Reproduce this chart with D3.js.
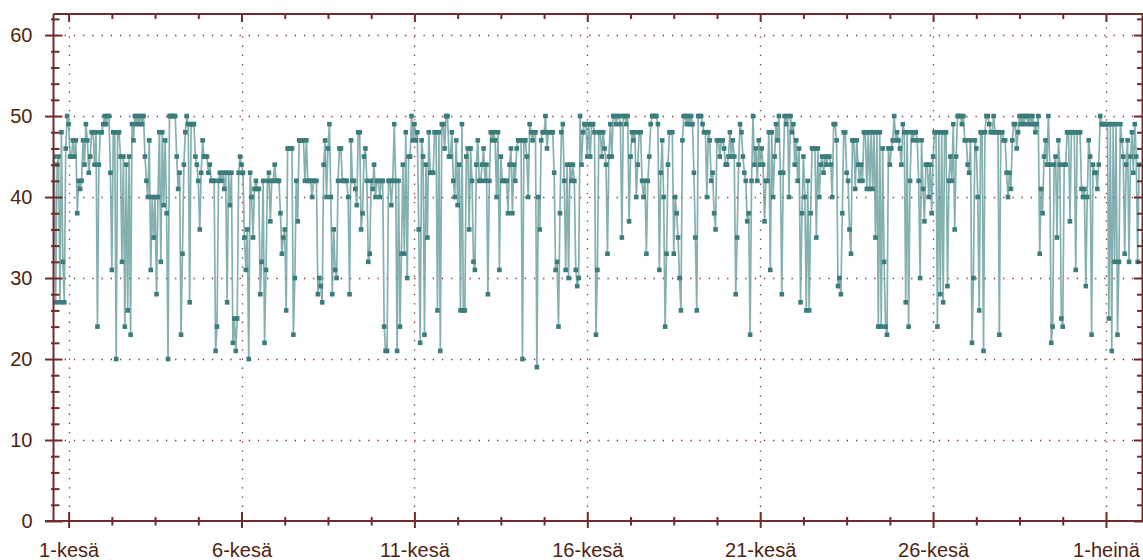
<!DOCTYPE html>
<html>
<head>
<meta charset="utf-8">
<script src="https://cdn.jsdelivr.net/npm/d3@7"></script>
<style>
  html, body { margin: 0; padding: 0; background: #ffffff; }
  svg { display: block; }
  text { font-family: "Liberation Sans", Arial, sans-serif; }
</style>
</head>
<body>
<svg id="chart" width="1143" height="560"></svg>
<script>
// Hourly readings, first value at 31 May 14:00
const seriesStart = "2015-05-31T14:00:00";
const readings = [
45,27,44,45,27,48,32,27,46,50,49,45,
45,47,45,47,38,42,41,42,47,44,49,47,
43,45,48,48,44,48,24,44,48,48,49,50,
49,50,50,43,31,48,48,20,48,48,45,32,
45,24,44,26,45,23,49,47,50,49,50,49,
50,49,50,45,42,40,47,31,40,35,40,28,
40,48,32,48,39,47,38,20,50,50,50,50,
50,45,41,43,23,33,44,48,50,49,27,49,
49,49,45,44,42,36,43,47,45,45,45,43,
44,42,42,42,21,24,42,43,42,43,41,43,
27,43,39,43,22,25,21,25,43,45,44,43,
35,31,36,20,43,40,35,41,42,41,41,28,
32,42,22,31,42,43,37,42,42,44,42,42,
42,38,33,35,36,26,46,46,46,46,23,30,
42,37,47,47,47,47,42,47,42,42,42,40,
42,42,42,28,30,29,27,44,47,40,46,49,
40,28,36,31,30,42,46,46,42,42,42,42,
40,28,47,42,42,41,39,48,48,36,38,45,
46,42,32,33,42,41,44,40,42,42,40,42,
42,24,21,21,42,42,39,42,49,42,21,42,
24,33,44,33,48,30,45,45,50,47,49,47,
48,36,22,47,45,23,44,35,48,43,43,43,
48,48,26,48,21,49,49,46,50,50,45,45,
48,42,40,47,39,44,26,49,26,26,45,46,
36,46,42,32,31,44,47,42,42,44,46,42,
44,28,42,48,47,48,47,40,48,31,45,42,
42,42,42,38,44,46,38,44,42,46,47,47,
47,20,47,47,45,40,49,48,47,48,48,19,
40,36,47,48,48,50,46,48,48,48,48,43,
31,32,24,38,48,49,42,31,44,30,44,42,
44,42,31,29,30,50,44,48,49,49,45,49,
45,49,49,48,23,31,48,48,45,48,46,44,
33,45,49,45,50,50,49,50,50,49,35,50,
50,49,50,37,45,48,47,48,40,44,48,48,
42,40,42,33,42,45,49,50,50,50,50,49,
31,43,47,40,24,33,44,48,48,48,33,40,
38,35,30,26,47,50,50,49,50,49,50,49,
43,35,26,50,50,50,49,48,48,40,48,47,
42,43,38,36,47,47,45,47,47,46,44,44,
45,48,45,47,45,28,35,44,49,48,45,43,
42,37,38,23,42,50,44,46,42,47,44,46,
44,37,42,42,48,31,48,40,45,49,47,50,
43,28,43,50,49,50,40,50,48,49,44,47,
42,46,27,38,45,40,26,42,26,38,46,46,
46,35,46,40,44,45,43,45,44,45,45,44,
40,49,49,47,29,30,28,38,48,48,43,42,
36,33,47,47,41,47,44,42,44,42,48,48,
41,48,41,48,41,48,35,48,24,48,24,46,
32,24,23,46,44,46,47,50,47,48,47,46,
44,49,48,27,48,24,42,48,47,48,48,47,
42,30,47,41,37,44,44,40,44,38,45,48,
48,24,48,28,48,27,48,48,29,42,45,42,
49,36,45,50,50,50,49,50,47,47,44,43,
47,22,30,47,46,40,26,48,48,21,48,50,
50,49,48,48,50,48,48,48,23,48,48,47,
47,43,40,43,41,47,49,49,46,48,50,49,
50,49,50,50,49,50,49,50,49,48,49,50,
33,41,38,45,47,44,50,44,22,24,44,45,
35,47,44,25,24,44,44,48,48,37,48,48,
48,31,48,48,48,41,40,41,29,40,47,45,
23,44,43,43,41,44,50,49,49,49,49,49,
25,49,21,49,32,49,23,32,49,47,45,33,
44,47,32,45,48,43,49,45,32,44
];

// Axis ticks and labels
const xTickDates = ["2015-06-01", "2015-06-06", "2015-06-11", "2015-06-16", "2015-06-21", "2015-06-26", "2015-07-01"];
const xTickLabels = ["1-kesä", "6-kesä", "11-kesä", "16-kesä", "21-kesä", "26-kesä", "1-heinä"];
const yTicks = [0, 10, 20, 30, 40, 50, 60];
const yMinorTicks = [2, 4, 6, 8, 12, 14, 16, 18, 22, 24, 26, 28, 32, 34, 36, 38, 42, 44, 46, 48, 52, 54, 56, 58, 62];
const xDomain = ["2015-05-31T13:30:00", "2015-07-02T01:00:00"];
const yDomain = [0, 62.6];

const parse = s => new Date(s);
const t0 = parse(seriesStart);
const points = readings.map((v, i) => ({ t: new Date(t0.getTime() + i * 3600e3), v }));

const L = 53.5, R = 1142, T = 14, B = 521;
const axisColor = "#6e2c2c";
const textColor = "#50230f";
const gridColor = "#7b3434";

const x = d3.scaleTime().domain(xDomain.map(parse)).range([L, R]);
const y = d3.scaleLinear().domain(yDomain).range([B, T]);

const svg = d3.select("#chart");

// minor x ticks: three between each pair of labelled dates
const majorDates = xTickDates.map(parse);
const xMinor = [];
for (let i = 0; i < majorDates.length - 1; i++) {
  const a = majorDates[i].getTime(), b = majorDates[i + 1].getTime();
  for (let k = 1; k < 4; k++) xMinor.push(new Date(a + (b - a) * k / 4));
}

// dotted grid
const grid = svg.append("g").attr("stroke", gridColor).attr("stroke-width", 1.3)
  .attr("stroke-dasharray", "1.3,7.9").attr("fill", "none");
grid.selectAll("line.h").data(yTicks.filter(d => d > 0)).join("line")
  .attr("x1", L + 2).attr("x2", R).attr("y1", d => Math.round(y(d)) + 0.5).attr("y2", d => Math.round(y(d)) + 0.5);
grid.selectAll("line.v").data(majorDates).join("line")
  .attr("x1", d => Math.round(x(d)) + 0.5).attr("x2", d => Math.round(x(d)) + 0.5)
  .attr("y1", T + 4).attr("y2", B);

// series
svg.append("clipPath").attr("id", "plotClip").append("rect")
  .attr("x", L).attr("y", T).attr("width", R - L + 2).attr("height", B - T);
const plot = svg.append("g").attr("clip-path", "url(#plotClip)");
const line = d3.line().x(d => x(d.t)).y(d => y(d.v));
plot.append("path").datum(points).attr("d", line)
  .attr("fill", "none").attr("stroke", "#5b9595").attr("stroke-width", 1.7)
  .attr("stroke-opacity", 0.75).attr("stroke-linejoin", "round");
plot.selectAll("rect.pt").data(points).join("rect")
  .attr("x", d => x(d.t) - 2.3).attr("y", d => y(d.v) - 2.3)
  .attr("width", 4.6).attr("height", 4.6).attr("fill", "#3d7c7c");

// axes
function styleAxis(g) {
  g.select(".domain").remove();
  g.selectAll(".tick line").attr("stroke", axisColor).attr("stroke-width", 2);
  g.selectAll(".tick text").attr("fill", textColor).style("font-size", "20px")
    .style("font-family", "'Liberation Sans', Arial, sans-serif");
}
const frame = svg.append("g").attr("stroke", axisColor).attr("stroke-width", 2);
frame.append("line").attr("x1", L).attr("x2", L).attr("y1", T).attr("y2", B);
frame.append("line").attr("x1", 45).attr("x2", 1143).attr("y1", B).attr("y2", B);
frame.append("line").attr("x1", L).attr("x2", 1143).attr("y1", T).attr("y2", T);
frame.append("line").attr("x1", R + 0.5).attr("x2", R + 0.5).attr("y1", T).attr("y2", B);

// left axis
const gl = svg.append("g").attr("transform", `translate(${L},0)`)
  .call(d3.axisLeft(y).tickValues(yTicks).tickSize(8).tickPadding(13).tickFormat(d3.format("d")));
styleAxis(gl);
gl.selectAll(".tick line").attr("x1", -8.5).attr("x2", 9);
const glm = svg.append("g").attr("transform", `translate(${L},0)`)
  .call(d3.axisLeft(y).tickValues(yMinorTicks.filter(d => d <= yDomain[1])).tickSize(2).tickFormat(""));
styleAxis(glm);
glm.selectAll(".tick line").attr("x1", -2.5).attr("x2", 6);

// right axis
const gr = svg.append("g").attr("transform", `translate(${R},0)`)
  .call(d3.axisRight(y).tickValues(yTicks).tickSize(0).tickFormat(""));
styleAxis(gr);
gr.selectAll(".tick line").attr("x1", -8).attr("x2", 2);
const grm = svg.append("g").attr("transform", `translate(${R},0)`)
  .call(d3.axisRight(y).tickValues(yMinorTicks).tickSize(0).tickFormat(""));
styleAxis(grm);
grm.selectAll(".tick line").attr("x1", -5).attr("x2", 2);

// bottom axis
const gb = svg.append("g").attr("transform", `translate(0,${B})`)
  .call(d3.axisBottom(x).tickValues(majorDates).tickSize(7).tickPadding(15)
    .tickFormat((d, i) => xTickLabels[i]));
styleAxis(gb);
gb.selectAll(".tick line").attr("y1", -9).attr("y2", 7);
const gbm = svg.append("g").attr("transform", `translate(0,${B})`)
  .call(d3.axisBottom(x).tickValues(xMinor).tickSize(4).tickFormat(""));
styleAxis(gbm);
gbm.selectAll(".tick line").attr("y1", -4).attr("y2", 4.5);

// top axis
const gt = svg.append("g").attr("transform", `translate(0,${T})`)
  .call(d3.axisTop(x).tickValues(majorDates).tickSize(0).tickFormat(""));
styleAxis(gt);
gt.selectAll(".tick line").attr("y1", 0).attr("y2", 8);
const gtm = svg.append("g").attr("transform", `translate(0,${T})`)
  .call(d3.axisTop(x).tickValues(xMinor).tickSize(0).tickFormat(""));
styleAxis(gtm);
gtm.selectAll(".tick line").attr("y1", 0).attr("y2", 5);
</script>
</body>
</html>
